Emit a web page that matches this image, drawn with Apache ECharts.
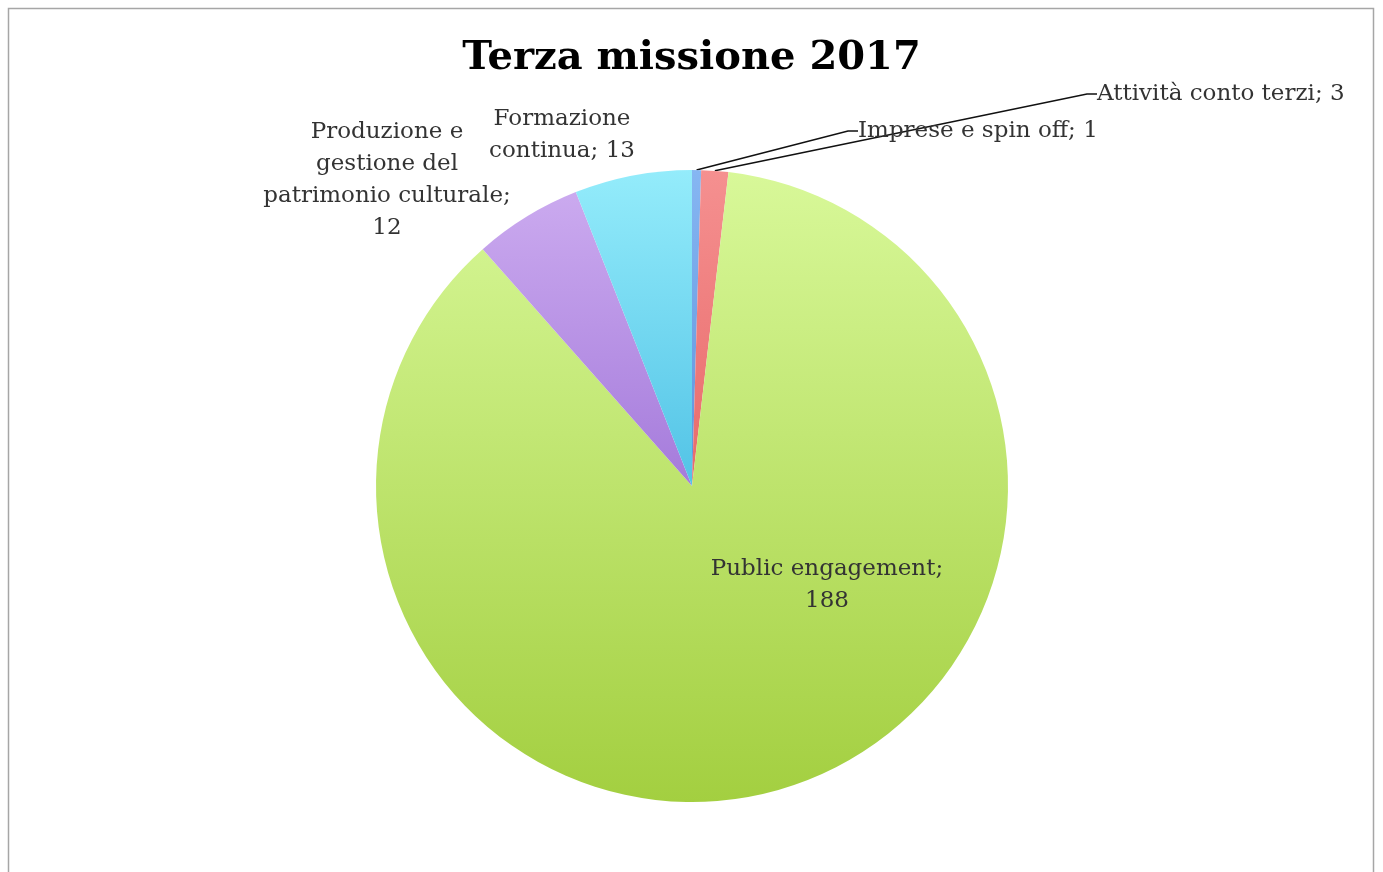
<!DOCTYPE html>
<html>
<head>
<meta charset="utf-8">
<script src="https://cdn.jsdelivr.net/npm/echarts@6/dist/echarts.min.js"></script>
<style>
  html, body { margin: 0; padding: 0; background: #fff; }
  #chart { width: 1383px; height: 872px; }
</style>
</head>
<body>
<div id="chart"></div>
<script>
// Terza missione 2017 — activities by category
const categories = [
  'Imprese e spin off',
  'Attività conto terzi',
  'Public engagement',
  'Produzione e\ngestione del\npatrimonio culturale',
  'Formazione\ncontinua'
];
const values = [1, 3, 188, 12, 13];

// slice fills: [top, bottom] of a vertical gradient
const sliceColors = [
  ['#86b6f2', '#5e92dc'],
  ['#f59090', '#e86a6a'],
  ['#d8f899', '#a3cf40'],
  ['#cbaaef', '#a57bdb'],
  ['#94ecfb', '#52c3e6']
];

// where each label sits (anchor x, middle y, in px)
const labelSpots = [
  { x: 858, y: 131, align: 'left' },
  { x: 1097, y: 94, align: 'left' },
  { x: 827, y: 585, align: 'center' },
  { x: 387, y: 180, align: 'center' },
  { x: 562, y: 135, align: 'center' }
];

const FONT = '"DejaVu Serif", "Liberation Serif", serif';

const pieData = categories.map((name, i) => ({
  name: name,
  value: values[i],
  itemStyle: {
    color: {
      type: 'linear', x: 0, y: 0, x2: 0, y2: 1,
      colorStops: [
        { offset: 0, color: sliceColors[i][0] },
        { offset: 1, color: sliceColors[i][1] }
      ]
    }
  },
  label: { position: i === 2 ? 'inside' : 'outside' },
  labelLine: { show: i < 2 }
}));

const chart = echarts.init(document.getElementById('chart'), null, { renderer: 'canvas' });

chart.setOption({
  backgroundColor: '#ffffff',
  animation: false,
  graphic: [{
    type: 'rect',
    shape: { x: 8.5, y: 8.5, width: 1365, height: 900 },
    style: { fill: 'none', stroke: '#a6a6a6', lineWidth: 1.5 },
    silent: true,
    z: -1
  }],
  title: {
    text: 'Terza missione 2017',
    left: 'center',
    top: 34,
    textStyle: {
      fontFamily: FONT,
      fontWeight: 'bold',
      fontSize: 40,
      color: '#000'
    }
  },
  series: [{
    type: 'pie',
    center: [692, 486],
    radius: 316,
    startAngle: 90,
    clockwise: true,
    avoidLabelOverlap: false,
    data: pieData,
    label: {
      show: true,
      formatter: function (p) {
        const sep = (p.dataIndex === 2 || p.dataIndex === 3) ? ';\n' : '; ';
        return p.name + sep + p.value;
      },
      fontFamily: FONT,
      fontSize: 23,
      lineHeight: 32,
      color: '#333333',
      align: 'center'
    },
    labelLine: {
      show: true,
      length: 10,
      length2: 10,
      lineStyle: { color: '#111', width: 1.6 }
    },
    labelLayout: function (params) {
      const s = labelSpots[params.dataIndex];
      return {
        x: s.x,
        y: s.y,
        align: s.align,
        verticalAlign: 'middle'
      };
    }
  }]
});
</script>
</body>
</html>
